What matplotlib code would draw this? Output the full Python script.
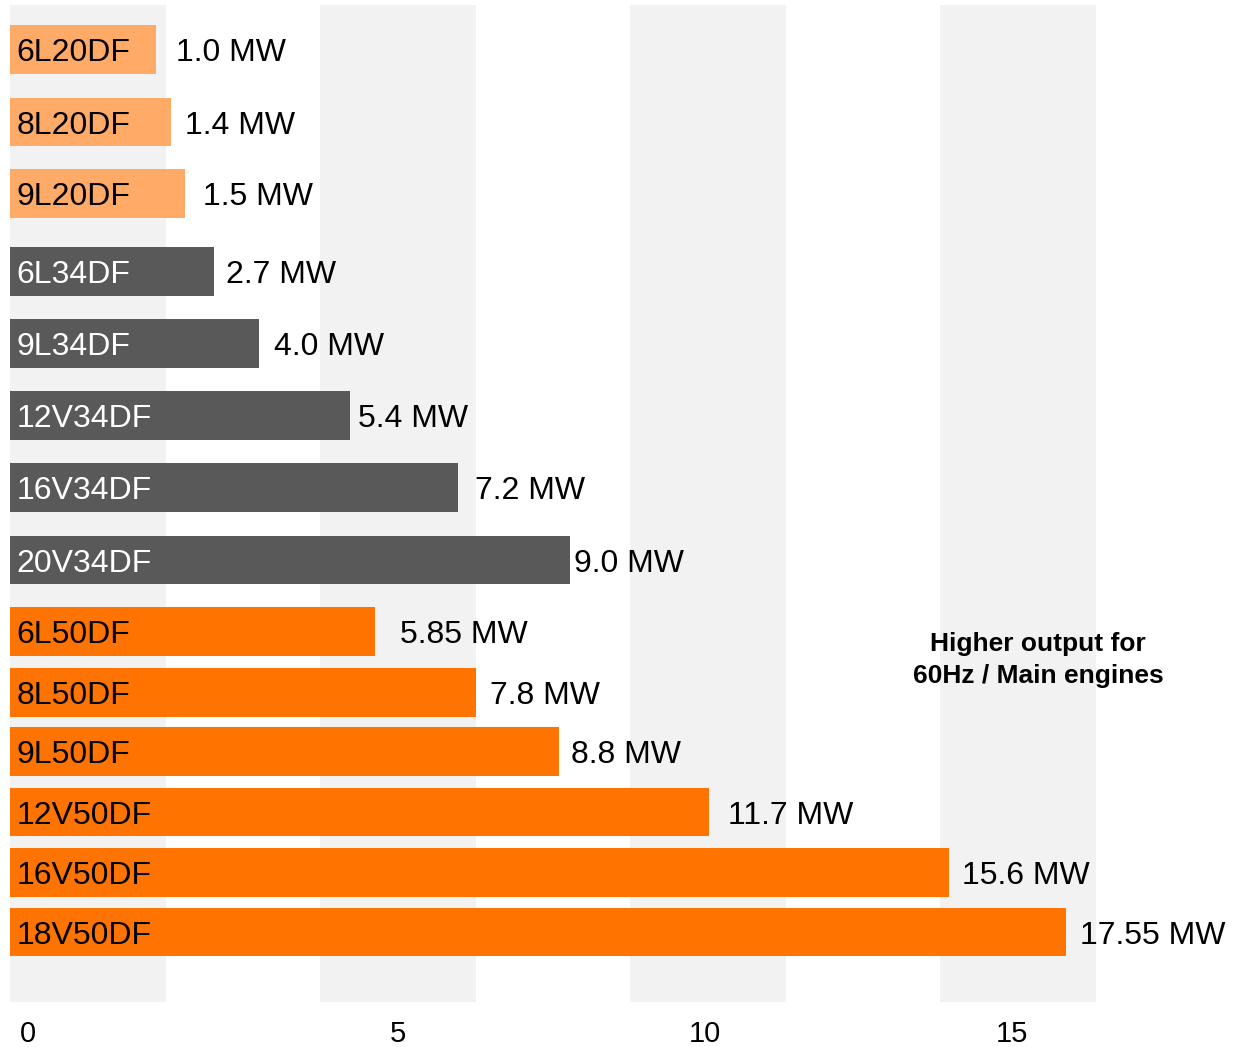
import matplotlib
matplotlib.use("Agg")
import matplotlib.pyplot as plt

# engine models, top to bottom
engines = [
    "6L20DF", "8L20DF", "9L20DF",
    "6L34DF", "9L34DF", "12V34DF", "16V34DF", "20V34DF",
    "6L50DF", "8L50DF", "9L50DF", "12V50DF", "16V50DF", "18V50DF",
]
output_labels = [
    "1.0 MW", "1.4 MW", "1.5 MW",
    "2.7 MW", "4.0 MW", "5.4 MW", "7.2 MW", "9.0 MW",
    "5.85 MW", "7.8 MW", "8.8 MW", "11.7 MW", "15.6 MW", "17.55 MW",
]
# drawn bar length (the bars are not to scale)
bar_length = [
    2.36, 2.60, 2.82,
    3.29, 4.02, 5.48, 7.23, 9.03,
    5.89, 7.52, 8.86, 11.27, 15.15, 17.03,
]
family = ["L20", "L20", "L20",
          "34", "34", "34", "34", "34",
          "50", "50", "50", "50", "50", "50"]
tick_labels = ["0", "5", "10", "15"]
note = ["Higher output for", "60Hz / Main engines"]

# ------------------------------------------------------------------
# layout (figure pixels, y from top; x in axis units of 62 px)
# ------------------------------------------------------------------
W, H, DPI = 1233, 1047, 100
PX = 62.0            # pixels per axis unit
X0 = 10              # pixel column of x = 0
row_y = [49.3, 122, 193.5, 271.5, 343.3, 415.5, 487.5, 560,
         631.3, 692.5, 751.5, 812, 872.3, 932]
label_gap_px = [20, 14, 18, 12, 15, 8, 17, 4, 25, 14, 12, 19, 13, 14]
tick_px = [28, 398, 705, 1012]
stripe_starts = [0, 5, 10, 15]

colors = {"L20": "#FFAA66", "34": "#595959", "50": "#FF7300"}
text_colors = {"L20": "black", "34": "white", "50": "black"}

plt.rcParams["font.family"] = ["Liberation Sans", "DejaVu Sans"]

fig = plt.figure(figsize=(W / DPI, H / DPI), dpi=DPI)
ax = fig.add_axes([0, 0, 1, 1])
ax.set_xlim(-X0 / PX, (W - X0) / PX)
ax.set_ylim(H, 0)
ax.axis("off")

# background stripes
ax.bar(stripe_starts, height=997, bottom=5, width=2.52, align="edge",
       color="#F2F2F2", zorder=0)

ax.barh(row_y, bar_length, height=48.5, left=0,
        color=[colors[f] for f in family], zorder=2)

for y, name, length, lab, fam, gap in zip(row_y, engines, bar_length,
                                          output_labels, family, label_gap_px):
    ax.text(0.1, y + 11.5, name, fontsize=23, color=text_colors[fam],
            ha="left", va="baseline", zorder=3)
    ax.text(length + gap / PX, y + 11.5, lab, fontsize=23, color="black",
            ha="left", va="baseline", zorder=3)

for px, lab in zip(tick_px, tick_labels):
    ax.text((px - X0) / PX, 1042.5, lab, fontsize=21, ha="center",
            va="baseline")

ax.text((1038 - X0) / PX, 651, note[0], fontsize=19, fontweight="bold",
        ha="center", va="baseline")
ax.text((1038 - X0) / PX, 683.5, note[1], fontsize=19, fontweight="bold",
        ha="center", va="baseline")

fig.savefig("out.png", dpi=DPI)
